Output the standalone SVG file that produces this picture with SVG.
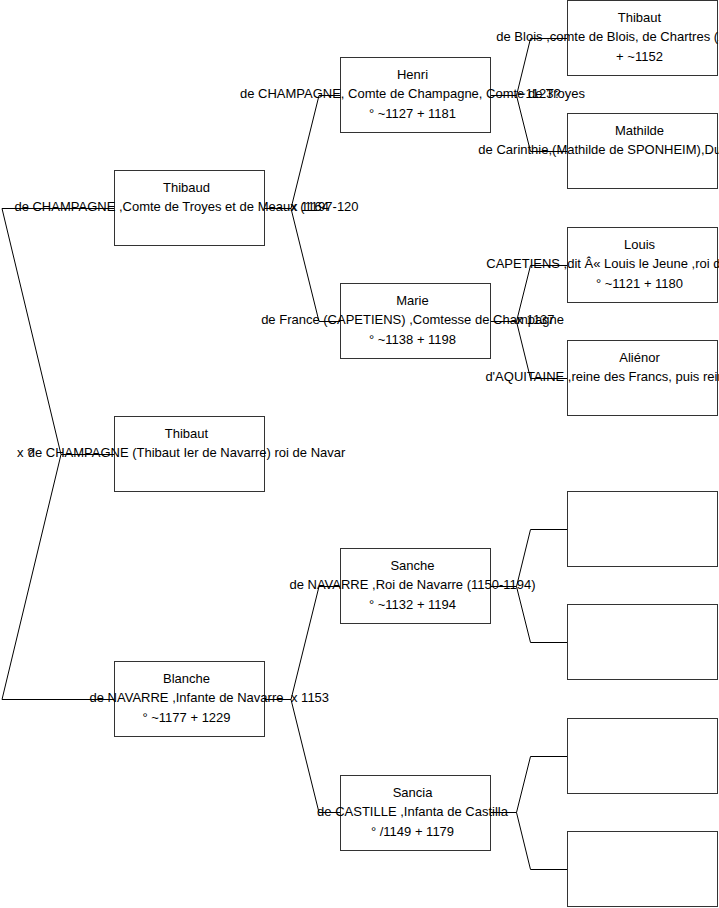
<svg xmlns="http://www.w3.org/2000/svg" width="719" height="908" viewBox="0 0 719 908">
<style>
.bg{fill:#fff}
.box{fill:#fff;stroke:#333;stroke-width:1}
.con{fill:none;stroke:#000;stroke-width:1}
text{font-family:"Liberation Sans",Arial,sans-serif;font-size:13px;fill:#000}
.c{text-anchor:middle}
</style>
<rect class="bg" x="0" y="0" width="719" height="908"/>
<g id="connectors">
<path class="con" d="M114.5,454.5 H61 L2,208.5 H114.5 M61,454.5 L2,699.5 H114.5"/>
<path class="con" d="M264.5,208.5 H291 L319,95.5 H340.5 M291,208.5 L319,321.5 H340.5"/>
<path class="con" d="M264.5,699.5 H291 L319,586.5 H340.5 M291,699.5 L319,812.5 H340.5"/>
<path class="con" d="M490.5,95.5 H516.5 L530.5,38.5 H567.5 M516.5,95.5 L530.5,151.5 H567.5"/>
<path class="con" d="M490.5,321.5 H516.5 L530.5,265.5 H567.5 M516.5,321.5 L530.5,378.5 H567.5"/>
<path class="con" d="M490.5,586.5 H516.5 L530.5,529.5 H567.5 M516.5,586.5 L530.5,642.5 H567.5"/>
<path class="con" d="M490.5,812.5 H516.5 L530.5,756.5 H567.5 M516.5,812.5 L530.5,869.5 H567.5"/>
</g>
<g id="labels">
<text x="17" y="457">x ?</text>
<text x="291" y="211">x 1164</text>
<text x="291" y="702">x 1153</text>
<text x="518" y="98">~1123?</text>
<text x="516.5" y="324">x 1137</text>
</g>
<g id="n-thibaut-1">
<rect class="box" x="114.5" y="416.5" width="150" height="75"/>
<text class="c" x="186.5" y="438">Thibaut</text>
<text class="c" x="186.5" y="457">de CHAMPAGNE (Thibaut Ier de Navarre) roi de Navar</text>
</g>
<g id="n-thibaud">
<rect class="box" x="114.5" y="170.5" width="150" height="75"/>
<text class="c" x="186.5" y="192">Thibaud</text>
<text class="c" x="186.5" y="211">de CHAMPAGNE ,Comte de Troyes et de Meaux (1197-120</text>
</g>
<g id="n-blanche">
<rect class="box" x="114.5" y="661.5" width="150" height="75"/>
<text class="c" x="186.5" y="683">Blanche</text>
<text class="c" x="186.5" y="702">de NAVARRE ,Infante de Navarre</text>
<text class="c" x="186.5" y="721.5">° ~1177 + 1229</text>
</g>
<g id="n-henri">
<rect class="box" x="340.5" y="57.5" width="150" height="75"/>
<text class="c" x="412.5" y="79">Henri</text>
<text class="c" x="412.5" y="98">de CHAMPAGNE, Comte de Champagne, Comte de Troyes</text>
<text class="c" x="412.5" y="117.5">° ~1127 + 1181</text>
</g>
<g id="n-marie">
<rect class="box" x="340.5" y="283.5" width="150" height="75"/>
<text class="c" x="412.5" y="305">Marie</text>
<text class="c" x="412.5" y="324">de France (CAPETIENS) ,Comtesse de Champagne</text>
<text class="c" x="412.5" y="343.5">° ~1138 + 1198</text>
</g>
<g id="n-sanche">
<rect class="box" x="340.5" y="548.5" width="150" height="75"/>
<text class="c" x="412.5" y="570">Sanche</text>
<text class="c" x="412.5" y="589">de NAVARRE ,Roi de Navarre (1150-1194)</text>
<text class="c" x="412.5" y="608.5">° ~1132 + 1194</text>
</g>
<g id="n-sancia">
<rect class="box" x="340.5" y="775.5" width="150" height="75"/>
<text class="c" x="412.5" y="797">Sancia</text>
<text class="c" x="412.5" y="816">de CASTILLE ,Infanta de Castilla</text>
<text class="c" x="412.5" y="835.5">° /1149 + 1179</text>
</g>
<g id="n-thibaut-blois">
<rect class="box" x="567.5" y="0.5" width="150" height="75"/>
<text class="c" x="639.5" y="22">Thibaut</text>
<text class="c" x="639.5" y="41">de Blois ,comte de Blois, de Chartres (1102-1152)</text>
<text class="c" x="639.5" y="60.5">+ ~1152</text>
</g>
<g id="n-mathilde">
<rect class="box" x="567.5" y="113.5" width="150" height="75"/>
<text class="c" x="639.5" y="135">Mathilde</text>
<text class="c" x="639.5" y="154">de Carinthie,(Mathilde de SPONHEIM),Duchesse de Ca</text>
</g>
<g id="n-louis">
<rect class="box" x="567.5" y="227.5" width="150" height="75"/>
<text class="c" x="639.5" y="249">Louis</text>
<text class="c" x="639.5" y="268">CAPETIENS ,dit Â« Louis le Jeune ,roi des Francs (1</text>
<text class="c" x="639.5" y="287.5">° ~1121 + 1180</text>
</g>
<g id="n-alienor">
<rect class="box" x="567.5" y="340.5" width="150" height="75"/>
<text class="c" x="639.5" y="362">Aliénor</text>
<text class="c" x="639.5" y="381">d'AQUITAINE ,reine des Francs, puis reine d'Angleter</text>
</g>
<g id="n-empty-1"><rect class="box" x="567.5" y="491.5" width="150" height="75"/></g>
<g id="n-empty-2"><rect class="box" x="567.5" y="604.5" width="150" height="75"/></g>
<g id="n-empty-3"><rect class="box" x="567.5" y="718.5" width="150" height="75"/></g>
<g id="n-empty-4"><rect class="box" x="567.5" y="831.5" width="150" height="75"/></g>
</svg>
